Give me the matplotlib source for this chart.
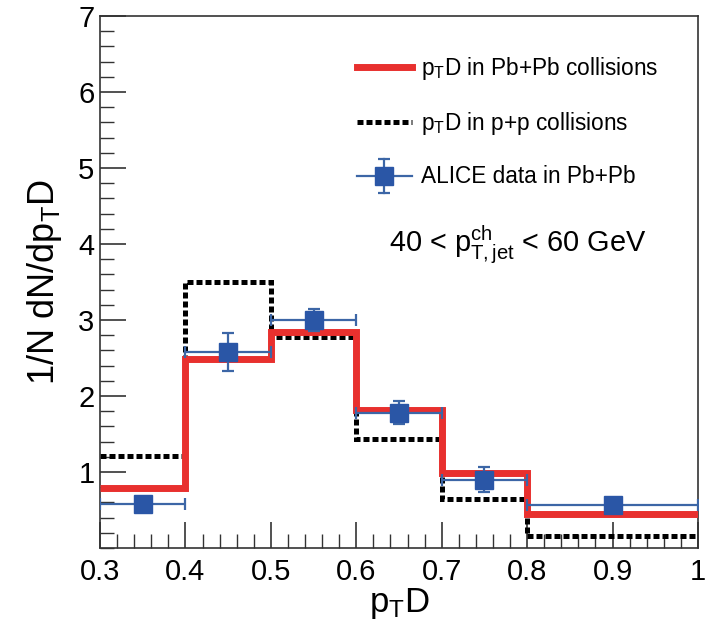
import matplotlib
matplotlib.use("Agg")
import matplotlib.pyplot as plt
from matplotlib.lines import Line2D
from matplotlib.legend_handler import HandlerBase
from matplotlib.ticker import MultipleLocator
import numpy as np

plt.rcParams['font.family'] = ['Liberation Sans', 'DejaVu Sans']
plt.rcParams['mathtext.fontset'] = 'custom'
plt.rcParams['mathtext.rm'] = 'Liberation Sans'
plt.rcParams['mathtext.it'] = 'Liberation Sans'

# Data
bin_edges = [0.3, 0.4, 0.5, 0.6, 0.7, 0.8, 1.0]
pbpb_values = [0.79, 2.49, 2.84, 1.82, 0.99, 0.45]
pp_values = [1.21, 3.50, 2.77, 1.43, 0.65, 0.16]
alice_x = [0.35, 0.45, 0.55, 0.65, 0.75, 0.90]
alice_xerr = [0.05, 0.05, 0.05, 0.05, 0.05, 0.10]
alice_y = [0.585, 2.58, 3.00, 1.78, 0.90, 0.56]
alice_yerr = [0.05, 0.25, 0.14, 0.15, 0.16, 0.05]

red = '#e8302e'
blue_m = '#2a56a6'
blue_l = '#3c66a6'


class DataHandler(HandlerBase):
    def create_artists(self, legend, orig_handle, xdescent, ydescent, width,
                       height, fontsize, trans):
        y0 = height / 2 - ydescent
        xm = width / 2 - xdescent
        hline = Line2D([-xdescent, width - xdescent], [y0, y0], color=blue_l,
                       lw=1.6, transform=trans)
        vh = 0.75 * fontsize
        vline = Line2D([xm, xm], [y0 - vh, y0 + vh], color=blue_l, lw=1.6,
                       transform=trans)
        caps = Line2D([xm, xm], [y0 - vh, y0 + vh], color=blue_l, lw=0,
                      marker='_', ms=9, mew=1.6, transform=trans)
        mk = Line2D([xm], [y0], marker='s', ms=13, mfc=blue_m, mec=blue_m,
                    lw=0, transform=trans)
        return [hline, vline, caps, mk]


fig = plt.figure(figsize=(7.12, 6.35), dpi=100)
ax = fig.add_axes([100/712, 1-548/635, 598/712, 532/635])

ax.stairs(pp_values, bin_edges, baseline=None, color='black', lw=3.6,
          linestyle=(0, (1.2, 0.6)), zorder=2)
ax.stairs(pbpb_values, bin_edges, baseline=None, color=red, lw=5.0, zorder=3)
ax.errorbar(alice_x, alice_y, xerr=alice_xerr, yerr=alice_yerr, fmt='s',
            color=blue_l, mfc=blue_m, mec=blue_m, ms=13, elinewidth=1.6,
            capsize=4, capthick=1.6, zorder=4)

ax.set_xlim(0.3, 1.0)
ax.set_ylim(0, 7)
ax.set_xticks([0.3, 0.4, 0.5, 0.6, 0.7, 0.8, 0.9, 1.0])
ax.set_xticklabels(['0.3', '0.4', '0.5', '0.6', '0.7', '0.8', '0.9', '1'])
ax.set_yticks([1, 2, 3, 4, 5, 6, 7])
ax.xaxis.set_minor_locator(MultipleLocator(0.02))
ax.yaxis.set_minor_locator(MultipleLocator(0.2))
ax.tick_params(axis='both', which='major', direction='in', length=19, width=1.2,
               labelsize=21, top=False, right=False, color='#333333')
ax.tick_params(axis='both', which='minor', direction='in', length=10, width=1.0,
               top=False, right=False, color='#333333')
ax.tick_params(axis='x', which='major', pad=7)
ax.tick_params(axis='y', which='major', pad=4)
for s in ax.spines.values():
    s.set_linewidth(1.2)
    s.set_color('#333333')

ax.set_xlabel(r'$\mathregular{p_{T}D}$', fontsize=25, labelpad=0)
ax.set_ylabel(r'1/N dN/d$\mathregular{p_{T}D}$', fontsize=26, labelpad=10)

alice_handle = Line2D([], [])
handles = [
    Line2D([], [], color=red, lw=5.0),
    Line2D([], [], color='black', lw=3.6, linestyle=(0, (1.2, 0.6))),
    alice_handle,
]
labels = [r'$\mathregular{p_{T}D}$ in Pb+Pb collisions',
          r'$\mathregular{p_{T}D}$ in p+p collisions',
          'ALICE data in Pb+Pb']
leg = ax.legend(handles, labels, loc='upper left', bbox_to_anchor=(0.415, 0.944),
                frameon=False, fontsize=16.3, handlelength=2.4, handletextpad=0.4,
                labelspacing=1.25, borderaxespad=0,
                handler_map={alice_handle: DataHandler()})

ax.text(0.699, 0.569, r'40 < $\mathregular{p^{ch}_{T,jet}}$ < 60 GeV',
        transform=ax.transAxes, fontsize=20.8, ha='center', va='center')

fig.savefig('out.png', dpi=100)
